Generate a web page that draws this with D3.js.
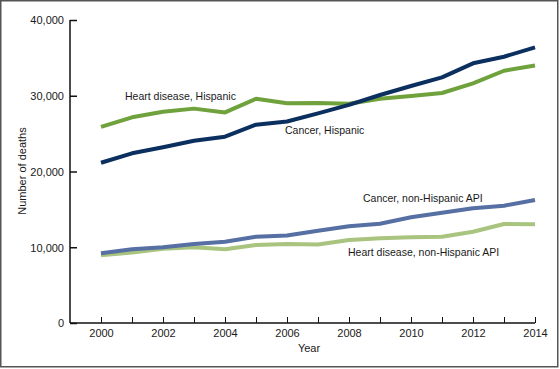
<!DOCTYPE html>
<html><head><meta charset="utf-8">
<script src="https://cdn.jsdelivr.net/npm/d3@7"></script>
<style>body{margin:0;background:#fff}svg{display:block}text{font-family:"Liberation Sans",Arial,sans-serif;fill:#1a1a1a}</style>
</head><body><svg id="c" width="560" height="369"></svg>
<script>
const years = [2000,2001,2002,2003,2004,2005,2006,2007,2008,2009,2010,2011,2012,2013,2014];
const heartHispanic = [25900,27150,27900,28300,27800,29600,29000,29050,28950,29600,29970,30360,31640,33300,34000];
const cancerHispanic = [21160,22400,23200,24070,24600,26180,26600,27680,28800,30100,31290,32430,34280,35150,36390];
const cancerAPI = [9200,9730,9990,10430,10730,11390,11560,12190,12760,13110,13950,14560,15140,15490,16240];
const heartAPI = [8940,9290,9810,9990,9730,10300,10430,10350,10960,11180,11310,11390,12050,13070,13030];
const yTicks = [0,10000,20000,30000,40000];
const xTicks = [2000,2002,2004,2006,2008,2010,2012,2014];
const seriesNames = ["Heart disease, Hispanic","Cancer, Hispanic","Cancer, non-Hispanic API","Heart disease, non-Hispanic API"];
const seriesColors = ["#6fa23c","#0b2f5e","#5670a3","#a9c47f"];

const svg = d3.select("#c");
svg.append("rect").attr("x",0.75).attr("y",0.75).attr("width",557).attr("height",366)
  .attr("fill","none").attr("stroke","#555").attr("stroke-width",1.5);

const x = d3.scaleLinear().domain([2000,2014]).range([101,535]);
const y = d3.scaleLinear().domain([0,40000]).range([323,20]);

// y axis
const ya = svg.append("g").attr("transform","translate(70,0)")
  .call(d3.axisRight(y).tickValues(yTicks).tickSize(7).tickFormat(d3.format(",")));
ya.select(".domain").attr("stroke","#111").attr("stroke-width",1.5).attr("d","M0,20V323");
ya.selectAll(".tick line").attr("stroke","#111").attr("stroke-width",1.5);
ya.selectAll(".tick text").attr("x",-6).attr("text-anchor","end").attr("font-size",11).attr("dy","0.35em");

// x axis
const xa = svg.append("g").attr("transform","translate(0,323)")
  .call(d3.axisTop(x).tickValues(years).tickSize(6).tickFormat(d => xTicks.includes(d) ? d : ""));
xa.select(".domain").attr("stroke","#111").attr("stroke-width",1.5).attr("d","M70,0H535");
xa.selectAll(".tick line").attr("stroke","#111").attr("stroke-width",1);
xa.selectAll(".tick text").attr("y",6).attr("dy","0.71em").attr("font-size",11);

svg.append("text").attr("x",309).attr("y",352).attr("text-anchor","middle").attr("font-size",11).text("Year");
svg.append("text").attr("transform","translate(26,171) rotate(-90)").attr("text-anchor","middle").attr("font-size",11).text("Number of deaths");

const data = [heartHispanic,cancerHispanic,cancerAPI,heartAPI];
const line = d3.line().x((d,i)=>x(years[i])).y(d=>y(d));
[3,2,0,1].forEach(k=>{
  svg.append("path").datum(data[k]).attr("d",line).attr("fill","none")
    .attr("stroke",seriesColors[k]).attr("stroke-width",4).attr("stroke-linejoin","round");
});

const labelPos = [[125,100],[285,134],[363,202],[348,256]];
seriesNames.forEach((n,i)=>{
  svg.append("text").attr("x",labelPos[i][0]).attr("y",labelPos[i][1]).attr("font-size",10.5).text(n);
});
</script></body></html>
